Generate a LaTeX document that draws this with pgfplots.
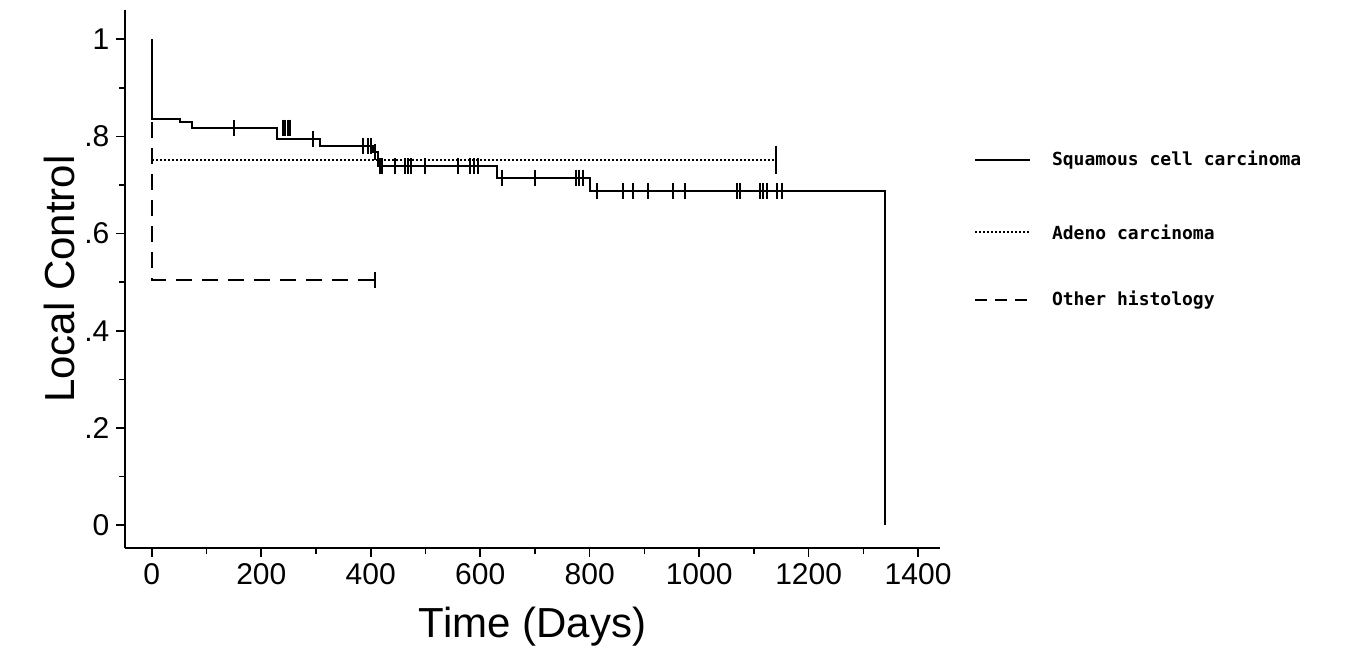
\documentclass[border=0pt]{standalone}
\usepackage{pgfplots}
\pgfplotsset{compat=1.18}
\usepackage{fontspec}
\setmainfont{Liberation Sans}
\newfontfamily\legfont{DejaVu Sans Mono}
\begin{document}
\begin{tikzpicture}
\useasboundingbox (0,0) rectangle (678.5pt,332.5pt);
\begin{axis}[at={(62.5pt,58.5pt)},anchor=south west,scale only axis,
  width=407.5pt,height=269pt,
  xmin=-49,xmax=1440,ymin=-0.047,ymax=1.06,
  axis lines*=left, axis line style={line width=1pt},
  tick align=outside, tick style={line width=0.8pt,black},
  xtick={0,200,...,1400}, ytick={0,0.2,0.4,0.6,0.8,1},
  yticklabels={0,.2,.4,.6,.8,1},
  minor x tick num=1, minor y tick num=1,
  ticklabel style={font=\fontsize{15}{15}\selectfont},
  /pgf/number format/assume math mode=true,
  /pgf/number format/1000 sep={},
  xlabel={Time (Days)}, ylabel={Local Control},
  label style={font=\fontsize{21}{21}\selectfont},
  xlabel style={yshift=-4pt}, ylabel style={yshift=-2pt},
  clip=false]
\addplot[black,line width=1pt,const plot] coordinates {(0,1)(0,0.835)(51,0.829)(73,0.818)(228,0.794)(307,0.78)(404,0.767)(413,0.738)(630,0.715)(800,0.687)(1340,0.687)(1340,0)};
\addplot[black,line width=1pt,only marks,mark=|,mark size=4pt] coordinates {
(150,0.818)(240,0.818)(244,0.818)(248,0.818)(252,0.818)(295,0.794)(385,0.78)(395,0.78)(400,0.78)(408,0.767)(416,0.738)(420,0.738)(445,0.738)(462,0.738)(468,0.738)(474,0.738)(500,0.738)(560,0.738)(582,0.738)(588,0.738)(596,0.738)(640,0.715)(700,0.715)(775,0.715)(781,0.715)(787,0.715)(813,0.687)(861,0.687)(879,0.687)(907,0.687)(952,0.687)(974,0.687)(1069,0.687)(1075,0.687)(1111,0.687)(1117,0.687)(1124,0.687)(1142,0.687)(1152,0.687)};
\addplot[black,line width=1pt,densely dotted] coordinates {(0,0.752)(1140,0.752)};
\addplot[black,line width=1pt,only marks,mark=|,mark size=7pt] coordinates {(1140,0.752)};
\addplot[black,line width=1pt,dashed,dash pattern=on 8pt off 5pt] coordinates {(0,0.83)(0,0.505)(408,0.505)};
\addplot[black,line width=1pt,only marks,mark=|,mark size=4pt] coordinates {(408,0.505)};
\end{axis}
\begin{scope}[x=0.5pt,y=0.5pt,font=\legfont\bfseries\fontsize{9}{9}\selectfont]
\draw[line width=1pt] (975,505)--(1030,505); \node[anchor=west] at (1045,505) {Squamous cell carcinoma};
\draw[line width=1pt,densely dotted] (975,433)--(1030,433); \node[anchor=west] at (1045,433) {Adeno carcinoma};
\draw[line width=1pt,dashed,dash pattern=on 6pt off 4pt] (975,365)--(1030,365); \node[anchor=west] at (1045,365) {Other histology};
\end{scope}
\end{tikzpicture}
\end{document}
